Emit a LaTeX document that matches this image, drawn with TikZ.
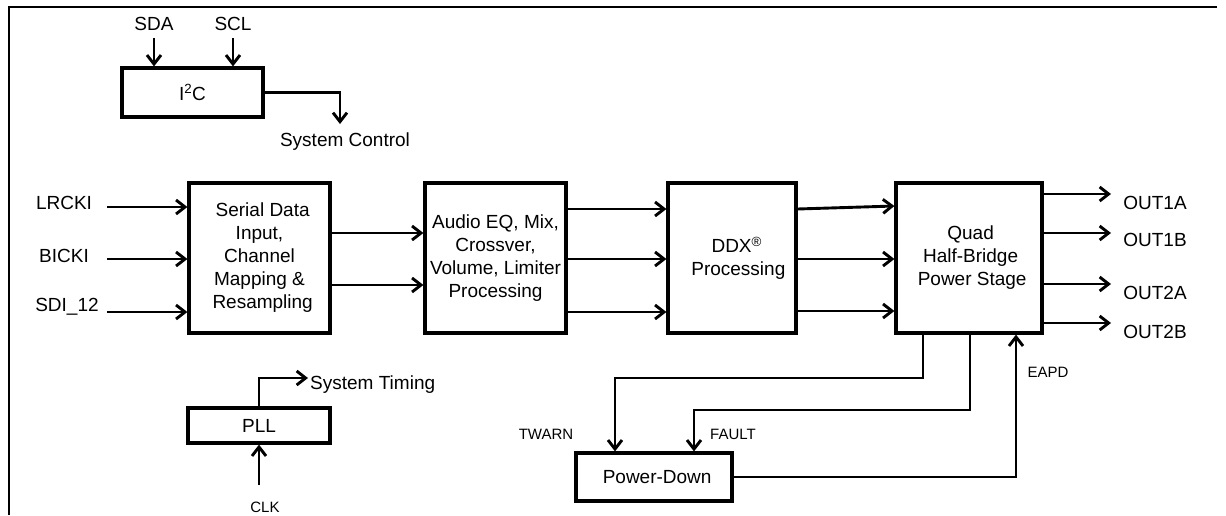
\documentclass[tikz,border=0pt]{standalone}
\usepackage{fontspec}
\setmainfont{Liberation Sans}
\usetikzlibrary{arrows.meta,calc}
\begin{document}
\begin{tikzpicture}[x=1pt,y=-1pt,
  blk/.style={draw,line width=3.2pt,inner sep=0pt,align=center,font=\fontsize{19}{23}\selectfont},
  lbl/.style={inner sep=0pt,font=\fontsize{19}{23}\selectfont},
  slbl/.style={inner sep=0pt,font=\fontsize{15}{18}\selectfont},
  arr/.style={line width=2.9pt,-{Straight Barb[length=9pt,width=14pt,line width=2.9pt]}}]
\useasboundingbox (0,0) rectangle (1226,515);
% frame
\draw[line width=2.6pt] (1217,7) -- (9,7) -- (9,515);
% blocks
\node[blk,minimum width=141,minimum height=49] (i2c) at (192.5,92.5) {I\textsuperscript{2}C};
\node[blk,minimum width=141,minimum height=150] (sd) at (259.5,258) {\,\,Serial Data\\Input,\\Channel\\Mapping \&\\\,\,Resampling};
\node[blk,minimum width=141,minimum height=150] (audio) at (495.5,258) {Audio EQ, Mix,\\Crossver,\\Volume, Limiter\\Processing};
\node[blk,minimum width=128,minimum height=150] (ddx) at (732,258) {\,\,\,DDX\textsuperscript{\textregistered}\\\,\,\,\,Processing};
\node[blk,minimum width=146,minimum height=150] (quad) at (969,258) {\,Quad\\\,Half-Bridge\\\,\,Power Stage};
\node[blk,minimum width=142,minimum height=35] (pll) at (259,425.5) {PLL};
\node[blk,minimum width=156,minimum height=48] (pd) at (654,477) {\,\,Power-Down};
% labels
\node[lbl] (sda) at (154,24) {SDA};
\node[lbl] (scl) at (233,24) {SCL};
\node[lbl] (sysc) at (345,142) {System Control};
\node[lbl] (lrcki) at (64,203) {LRCKI};
\node[lbl] (bicki) at (64,256) {BICKI};
\node[lbl] (sdi) at (67,307) {SDI\_12};
\node[lbl] (o1a) at (1155,203) {OUT1A};
\node[lbl] (o1b) at (1155,240) {OUT1B};
\node[lbl] (o2a) at (1155,293) {OUT2A};
\node[lbl] (o2b) at (1155,332) {OUT2B};
\node[lbl,anchor=west] (syst) at (310,385) {System Timing};
\node[slbl] (clk) at (265,507) {CLK};
\node[slbl] (twarn) at (546,434) {TWARN};
\node[slbl] (fault) at (733,434) {FAULT};
\node[slbl] (eapd) at (1048,372) {EAPD};
% free ends
\coordinate (sdaS) at (154,38);
\coordinate (sclS) at (233,38);
\coordinate (syscT) at (340,124);
\coordinate (lrS) at (107,207);
\coordinate (biS) at (107,259);
\coordinate (sdiS) at (107,312);
\coordinate (o1aT) at (1111,194);
\coordinate (o1bT) at (1111,233);
\coordinate (o2aT) at (1111,284);
\coordinate (o2bT) at (1111,323);
\coordinate (systT) at (308,378);
\coordinate (clkS) at (259,485);
% connectors
\draw[arr] (sdaS) -- (sdaS |- i2c.north);
\draw[arr] (sclS) -- (sclS |- i2c.north);
\draw[arr] (i2c.east) -| (syscT);
\draw[arr] (lrS) -- (lrS -| sd.west);
\draw[arr] (biS) -- (biS -| sd.west);
\draw[arr] (sdiS) -- (sdiS -| sd.west);
\draw[arr] (sd.east |- 0,233) -- (audio.west |- 0,233);
\draw[arr] (sd.east |- 0,285) -- (audio.west |- 0,285);
\draw[arr] (audio.east |- 0,209) -- (ddx.west |- 0,209);
\draw[arr] (audio.east |- 0,259) -- (ddx.west |- 0,259);
\draw[arr] (audio.east |- 0,312) -- (ddx.west |- 0,312);
\draw[arr] (ddx.east |- 0,209) -- (quad.west |- 0,206);
\draw[arr] (ddx.east |- 0,259) -- (quad.west |- 0,259);
\draw[arr] (ddx.east |- 0,311) -- (quad.west |- 0,311);
\draw[arr] (quad.east |- o1aT) -- (o1aT);
\draw[arr] (quad.east |- o1bT) -- (o1bT);
\draw[arr] (quad.east |- o2aT) -- (o2aT);
\draw[arr] (quad.east |- o2bT) -- (o2bT);
\draw[arr] (quad.south -| 923,0) -- (923,378) -| (pd.north -| 615,0);
\draw[arr] (quad.south -| 970,0) -- (970,410) -| (pd.north -| 694,0);
\draw[arr] (pd.east) -| (quad.south -| 1016,0);
\draw[arr] (pll.north) |- (systT);
\draw[arr] (clkS) -- (clkS |- pll.south);
\end{tikzpicture}
\end{document}
